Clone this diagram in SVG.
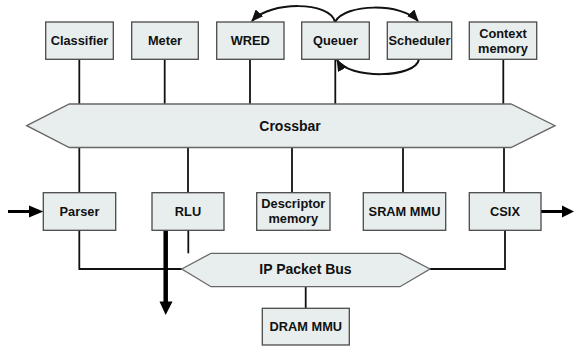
<svg xmlns="http://www.w3.org/2000/svg" width="574" height="350" viewBox="0 0 574 350">
<style>
.box{fill:#e8eeed;stroke:#4a4a4a;stroke-width:1.3}
.bus{fill:#e8eeed;stroke:#666;stroke-width:1.3}
.t{font-family:"Liberation Sans",Arial,sans-serif;font-weight:bold;font-size:12.8px;fill:#111;text-anchor:middle}
.tb{font-family:"Liberation Sans",Arial,sans-serif;font-weight:bold;font-size:14px;fill:#111;text-anchor:middle}
.c{stroke:#111;stroke-width:1.8;fill:none}
.ca{stroke:#111;stroke-width:2;fill:none;marker-end:url(#ah)}
.thick{stroke:#000;fill:none}
</style>
<defs>
<marker id="ah" markerUnits="userSpaceOnUse" markerWidth="12" markerHeight="10" refX="11" refY="5" orient="auto">
<path d="M0,0 L12,5 L0,10 Z" fill="#111"/>
</marker>
</defs>
<rect width="574" height="350" fill="#fff"/>
<g id="connectors">
<line class="c" x1="79.3" y1="59" x2="79.3" y2="104"/>
<line class="c" x1="164.7" y1="59" x2="164.7" y2="104"/>
<line class="c" x1="250" y1="59" x2="250" y2="104"/>
<line class="c" x1="335.3" y1="59" x2="335.3" y2="104"/>
<line class="c" x1="503.3" y1="59" x2="503.3" y2="104"/>
<line class="c" x1="79.3" y1="147.5" x2="79.3" y2="193"/>
<line class="c" x1="188" y1="147.5" x2="188" y2="193"/>
<line class="c" x1="292" y1="147.5" x2="292" y2="193"/>
<line class="c" x1="403" y1="147.5" x2="403" y2="193"/>
<line class="c" x1="504" y1="147.5" x2="504" y2="193"/>
<polyline class="c" points="79.3,230 79.3,269 181.7,269"/>
<line class="c" x1="188.3" y1="230" x2="188.3" y2="253.3"/>
<polyline class="c" points="430,269 505,269 505,230"/>
<line class="c" x1="305.7" y1="286.7" x2="305.7" y2="308.3"/>
<path class="ca" d="M335,22 C330,1 270,1 252,21"/>
<path class="ca" d="M335,22 C345,3 402,3 418,21"/>
<path class="ca" d="M419,59 C416,79 348,79 337,60"/>
<line class="thick" stroke-width="3" x1="8" y1="211.5" x2="30" y2="211.5"/>
<polygon points="29,205.5 43.3,211.5 29,217.5" fill="#000"/>
<line class="thick" stroke-width="3" x1="541" y1="211.5" x2="563" y2="211.5"/>
<polygon points="562,205.5 574,211.5 562,217.5" fill="#000"/>
<line class="thick" stroke-width="4.5" x1="165.7" y1="231" x2="165.7" y2="303"/>
<polygon points="159.5,301.5 172.5,301.5 165.7,315" fill="#000"/>
</g>
<g id="crossbar"><polygon class="bus" points="26.7,125.7 69.3,104 511,104 555,125.7 511,147.5 69.3,147.5"/><text class="tb" x="290" y="130.5">Crossbar</text></g>
<g id="ipbus"><polygon class="bus" points="181.7,269 211,253.3 400,253.3 430,269 400,286.7 211,286.7"/><text class="tb" x="305.5" y="274">IP Packet Bus</text></g>
<g id="classifier"><rect class="box" x="45.7" y="22" width="67.6" height="37.3"/><text class="t" x="79.5" y="45.2">Classifier</text></g>
<g id="meter"><rect class="box" x="131.7" y="22" width="66.6" height="37.3"/><text class="t" x="165" y="45.2">Meter</text></g>
<g id="wred"><rect class="box" x="216.7" y="22" width="67.3" height="37.3"/><text class="t" x="250.3" y="45.2">WRED</text></g>
<g id="queuer"><rect class="box" x="301.7" y="22" width="67.6" height="37.3"/><text class="t" x="335.5" y="45.2">Queuer</text></g>
<g id="scheduler"><rect class="box" x="387.3" y="22" width="64.4" height="37.3"/><text class="t" x="419.5" y="45.2">Scheduler</text></g>
<g id="context"><rect class="box" x="469.3" y="22" width="67.4" height="37.3"/><text class="t" x="503" y="37.5">Context</text><text class="t" x="503" y="53">memory</text></g>
<g id="parser"><rect class="box" x="43.3" y="192.7" width="72.4" height="37.6"/><text class="t" x="79.5" y="216">Parser</text></g>
<g id="rlu"><rect class="box" x="152" y="192.7" width="72" height="37.6"/><text class="t" x="188" y="216">RLU</text></g>
<g id="descriptor"><rect class="box" x="256.7" y="192.7" width="73.3" height="37.6"/><text class="t" x="293.3" y="207.7">Descriptor</text><text class="t" x="293.3" y="223">memory</text></g>
<g id="sram"><rect class="box" x="363.3" y="192.7" width="82.4" height="37.6"/><text class="t" x="404.5" y="216">SRAM MMU</text></g>
<g id="csix"><rect class="box" x="469.3" y="192.7" width="71.7" height="37.6"/><text class="t" x="505" y="216">CSIX</text></g>
<g id="dram"><rect class="box" x="262.3" y="308.3" width="87" height="36.7"/><text class="t" x="305.8" y="331">DRAM MMU</text></g>
</svg>
